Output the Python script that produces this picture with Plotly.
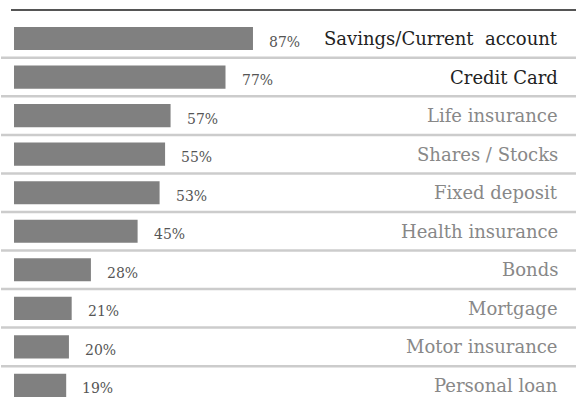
import plotly.graph_objects as go

categories = ["Savings/Current  account", "Credit Card", "Life insurance", "Shares / Stocks",
              "Fixed deposit", "Health insurance", "Bonds", "Mortgage", "Motor insurance", "Personal loan"]
values = [87, 77, 57, 55, 53, 45, 28, 21, 20, 19]
label_colors = ["#222222", "#222222"] + ["#888888"] * 8

FONT = "DejaVu Serif"
idx = list(range(len(categories)))

fig = go.Figure()
fig.add_trace(go.Bar(
    x=values, y=idx, orientation="h", width=0.6,
    marker=dict(color="#808080", line=dict(width=0)),
    hoverinfo="skip",
))

annotations = []
for i, (c, v, col) in enumerate(zip(categories, values, label_colors)):
    annotations.append(dict(x=v, y=i, xref="x", yref="y", text=f"{v}%", showarrow=False,
                            xanchor="left", xshift=14, yshift=-3,
                            font=dict(family=FONT, size=14, color="#555555")))
    annotations.append(dict(x=560 / 576, y=i, xref="paper", yref="y", text=c, showarrow=False,
                            xanchor="right", yshift=0,
                            font=dict(family=FONT, size=18, color=col)))

shapes = [dict(type="line", xref="paper", yref="y", x0=11 / 576, x1=1, y0=-0.74, y1=-0.74,
               line=dict(color="#555555", width=2))]
for i in idx[:-1]:
    shapes.append(dict(type="line", xref="paper", yref="y", x0=1 / 576, x1=1, y0=i + 0.5, y1=i + 0.5,
                       line=dict(color="#cccccc", width=2.5)))

fig.update_layout(
    width=576, height=397,
    margin=dict(l=0, r=0, t=0, b=0),
    paper_bgcolor="white", plot_bgcolor="white",
    showlegend=False,
    xaxis=dict(range=[-5.1, 204.6], visible=False, fixedrange=True),
    yaxis=dict(range=[9.30, -1.0], visible=False, fixedrange=True),
    annotations=annotations, shapes=shapes,
)

fig.write_html("out.html")
